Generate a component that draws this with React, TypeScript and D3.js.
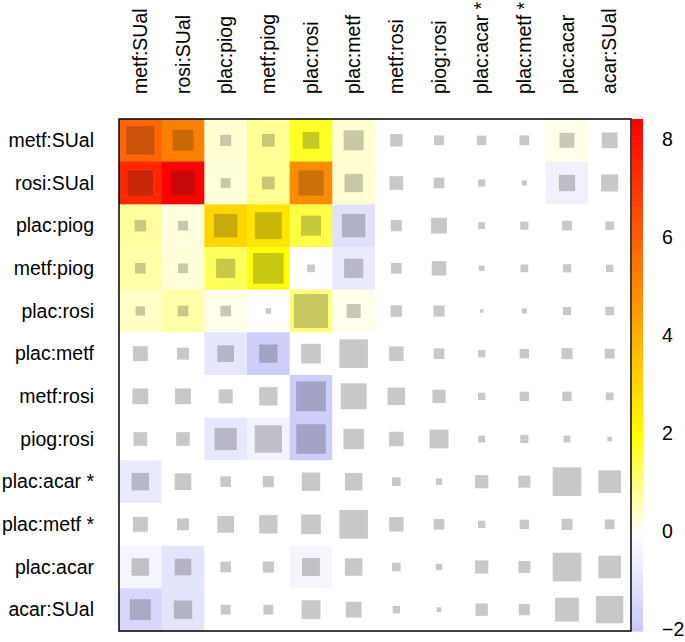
import React from 'react';
import * as d3 from 'd3';

const labels: string[] = [
  'metf:SUal', 'rosi:SUal', 'plac:piog', 'metf:piog', 'plac:rosi', 'plac:metf',
  'metf:rosi', 'piog:rosi', 'plac:acar *', 'plac:metf *', 'plac:acar', 'acar:SUal',
];

// heat values (background colour) per row, columns in label order
const heatValues: number[][] = [
  [5.9, 5.2, 0.35, 0.82, 1.7, 0.35, 0, 0, 0, 0, 0.15, 0],
  [7.45, 8.45, 0.3, 0.85, 4.9, 0.35, 0, 0, 0, 0, -0.5, 0],
  [0.75, 0.24, 3.0, 2.6, 1.45, -1.1, 0, 0, 0, 0, 0, 0],
  [0.67, 0.3, 1.3, 1.9, 0, -0.75, 0, 0, 0, 0, 0, 0],
  [0.43, 0.67, 0.16, 0, 1.06, 0.16, 0, 0, 0, 0, 0, 0],
  [0, 0, -0.9, -1.8, 0, 0, 0, 0, 0, 0, 0, 0],
  [0, 0, 0, 0, -1.8, 0, 0, 0, 0, 0, 0, 0],
  [0, 0, -0.85, -0.45, -1.8, 0, 0, 0, 0, 0, 0, 0],
  [-0.75, 0, 0, 0, 0, 0, 0, 0, 0, 0, 0, 0],
  [0, 0, 0, 0, 0, 0, 0, 0, 0, 0, 0, 0],
  [-0.36, -1.0, 0, 0, -0.36, 0, 0, 0, 0, 0, 0, 0],
  [-1.45, -1.0, 0, 0, 0, 0, 0, 0, 0, 0, 0, 0],
];

// relative weight (grey square) per row, columns in label order
const weights: number[][] = [
  [0.66, 0.49, 0.26, 0.30, 0.39, 0.47, 0.29, 0.23, 0.22, 0.23, 0.35, 0.37],
  [0.59, 0.56, 0.23, 0.30, 0.59, 0.43, 0.32, 0.25, 0.17, 0.12, 0.38, 0.40],
  [0.27, 0.23, 0.55, 0.63, 0.47, 0.55, 0.26, 0.37, 0.16, 0.19, 0.23, 0.20],
  [0.25, 0.23, 0.45, 0.72, 0.18, 0.45, 0.25, 0.34, 0.13, 0.18, 0.19, 0.17],
  [0.22, 0.25, 0.25, 0.13, 0.80, 0.33, 0.27, 0.26, 0.08, 0.12, 0.19, 0.20],
  [0.35, 0.28, 0.39, 0.43, 0.46, 0.67, 0.34, 0.25, 0.17, 0.22, 0.26, 0.23],
  [0.37, 0.37, 0.33, 0.43, 0.70, 0.61, 0.41, 0.31, 0.17, 0.22, 0.22, 0.18],
  [0.32, 0.32, 0.52, 0.64, 0.69, 0.48, 0.34, 0.44, 0.16, 0.19, 0.16, 0.11],
  [0.41, 0.39, 0.25, 0.26, 0.43, 0.41, 0.20, 0.15, 0.31, 0.28, 0.67, 0.53],
  [0.35, 0.28, 0.39, 0.43, 0.46, 0.67, 0.34, 0.25, 0.17, 0.22, 0.26, 0.23],
  [0.41, 0.39, 0.25, 0.26, 0.42, 0.41, 0.20, 0.15, 0.31, 0.28, 0.67, 0.53],
  [0.49, 0.43, 0.23, 0.23, 0.44, 0.37, 0.17, 0.11, 0.29, 0.26, 0.56, 0.64],
];

const colorTicks: number[] = [-2, 0, 2, 4, 6, 8];
const colorMin = -2;
const colorMax = 8.45;

const W = 685;
const H = 642;
const gridLeft = 119;
const gridTop = 119;
const gridRight = 631;
const gridBottom = 631;
const FONT = "'Liberation Sans', Arial, Helvetica, sans-serif";
const FS = 19.5;

export default function App() {
  const x = d3.scaleBand<string>().domain(labels).range([gridLeft, gridRight]);
  const y = d3.scaleBand<string>().domain(labels).range([gridTop, gridBottom]);
  const cell = x.bandwidth();
  const size = d3.scaleLinear().domain([0, 1]).range([0, cell]);
  const color = d3
    .scaleLinear<string>()
    .domain([colorMin, 0, 2, colorMax])
    .range(['rgb(200,200,250)', '#ffffff', '#ffff00', '#ff0000'])
    .clamp(true);
  const cy = d3.scaleLinear().domain([colorMin, colorMax]).range([gridBottom, gridTop]);
  const barSteps = d3.range(colorMin, colorMax, 0.05);

  return (
    <div style={{ position: 'absolute', left: 0, top: 0 }}>
      <svg width={W} height={H} style={{ display: 'block' }} fontFamily={FONT}>
        <rect x={0} y={0} width={W} height={H} fill="#fff" />
        {heatValues.map((row, i) =>
          row.map((v, j) => (
            <rect
              key={`bg-${i}-${j}`}
              x={x(labels[j])!}
              y={y(labels[i])!}
              width={cell + 0.5}
              height={cell + 0.5}
              fill={color(v)}
            />
          ))
        )}
        {weights.map((row, i) =>
          row.map((w, j) => {
            const s = size(w);
            return (
              <rect
                key={`sq-${i}-${j}`}
                x={x(labels[j])! + cell / 2 - s / 2}
                y={y(labels[i])! + cell / 2 - s / 2}
                width={s}
                height={s}
                fill="#222"
                fillOpacity={0.25}
              />
            );
          })
        )}
        <rect
          x={gridLeft}
          y={gridTop}
          width={gridRight - gridLeft}
          height={gridBottom - gridTop}
          fill="none"
          stroke="#000"
          strokeWidth={1.5}
        />
        {labels.map((l) => (
          <text
            key={`rl-${l}`}
            x={94}
            y={y(l)! + cell / 2}
            dy="0.35em"
            textAnchor="end"
            fontSize={FS}
            fill="#000"
          >
            {l}
          </text>
        ))}
        {labels.map((l) => (
          <text
            key={`cl-${l}`}
            transform={`translate(${x(l)! + cell / 2},94) rotate(-90)`}
            dy="0.35em"
            textAnchor="start"
            fontSize={FS}
            fill="#000"
          >
            {l}
          </text>
        ))}
        {barSteps.map((v) => (
          <rect
            key={`cb-${v.toFixed(2)}`}
            x={632}
            y={cy(Math.min(v + 0.05, colorMax))}
            width={11}
            height={cy(v) - cy(Math.min(v + 0.05, colorMax)) + 0.6}
            fill={color(v + 0.025)}
          />
        ))}
        {colorTicks.map((t) => (
          <text
            key={`ct-${t}`}
            x={662}
            y={cy(t) - 1.5}
            dy="0.35em"
            textAnchor="start"
            fontSize={FS}
            fill="#000"
          >
            {t < 0 ? `\u2212${Math.abs(t)}` : `${t}`}
          </text>
        ))}
      </svg>
    </div>
  );
}
